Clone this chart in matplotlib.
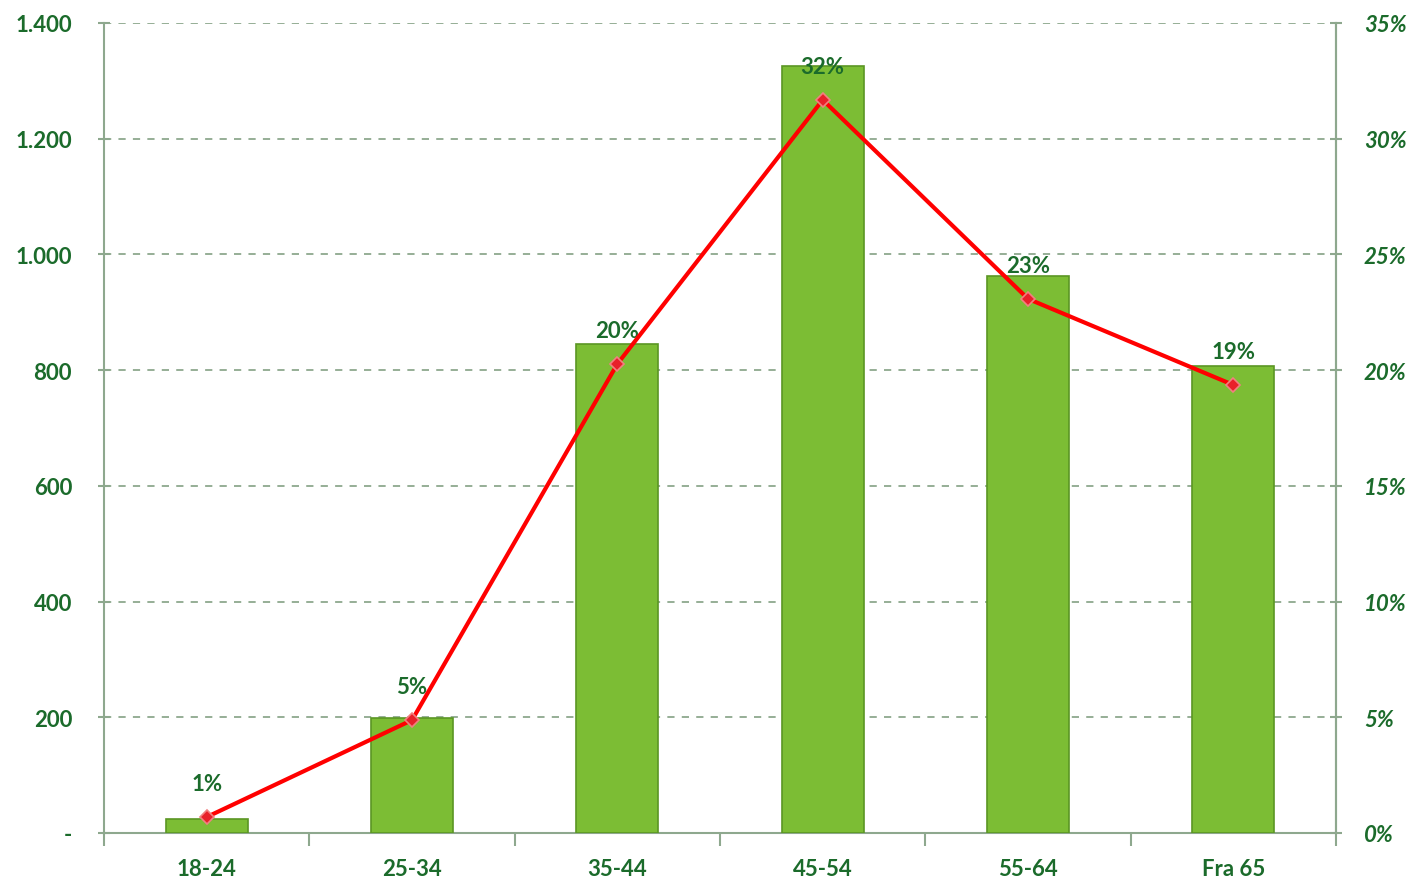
import matplotlib.pyplot as plt
import numpy as np

# Dati
categorie = ['18-24', '25-34', '35-44', '45-54', '55-64', 'Fra 65']
valori = [24, 199, 845, 1326, 963, 807]
percentuali = [0.69, 4.88, 20.27, 31.68, 23.08, 19.36]
etichette = ['1%', '5%', '20%', '32%', '23%', '19%']
tick_sx = [0, 200, 400, 600, 800, 1000, 1200, 1400]
tick_sx_lab = ['-', '200', '400', '600', '800', '1.000', '1.200', '1.400']
tick_dx = [0, 5, 10, 15, 20, 25, 30, 35]

verde_testo = '#1b6b2b'
grigio = '#8ea88e'

plt.rcParams['font.family'] = ['Lato', 'DejaVu Sans']

fig = plt.figure(figsize=(14.12, 8.79), dpi=100)
ax = fig.add_axes([0.0737, 0.0512, 0.8725, 0.9215])
x = np.arange(len(categorie))

# Barre
ax.bar(x, valori, width=0.4, color='#7cbd34', edgecolor='#5b9624', linewidth=1.2, zorder=3)
ax.set_xlim(-0.5, 5.5)
ax.set_ylim(0, 1400)
ax.set_yticks(tick_sx)
ax.set_yticklabels(tick_sx_lab)
ax.set_xticks(x)
ax.set_xticklabels(categorie)
ax.set_xticks(np.arange(-0.5, 6, 1), minor=True)
ax.tick_params(axis='x', which='major', length=0, pad=18, labelsize=16, labelcolor=verde_testo)
ax.tick_params(axis='x', which='minor', length=9, color=grigio, width=1.5, direction='out')
ax.tick_params(axis='y', length=8, direction='inout', color=grigio, width=1.5,
               labelsize=16, labelcolor=verde_testo, pad=19)
for t in ax.get_xticklabels() + ax.get_yticklabels():
    t.set_fontweight('bold')
ax.grid(axis='y', linestyle=(0, (4, 4)), color=grigio, linewidth=1.3, zorder=0)
ax.spines['top'].set_visible(False)
for s in ['left', 'right', 'bottom']:
    ax.spines[s].set_color(grigio)
    ax.spines[s].set_linewidth(1.5)

# Linea percentuale
ax2 = ax.twinx()
ax2.set_ylim(0, 35)
ax2.set_yticks(tick_dx)
ax2.set_yticklabels([f'{v}%' for v in tick_dx])
ax2.plot(x, percentuali, color='#ff0000', linewidth=3, marker='D', markersize=7,
         markerfacecolor='#e8202a', markeredgecolor='#f08080', markeredgewidth=1.2, zorder=5)
for xi, p, lab in zip(x, percentuali, etichette):
    ax2.annotate(lab, (xi, p), xytext=(0, 24), textcoords='offset points', ha='center',
                 va='center', fontsize=16, fontweight='bold', color=verde_testo)
ax2.tick_params(axis='y', length=8, direction='inout', color=grigio, width=1.5,
                labelsize=16, labelcolor=verde_testo, pad=16)
for t in ax2.get_yticklabels():
    t.set_fontweight('bold')
    t.set_fontstyle('italic')
for s in ['top', 'left', 'bottom']:
    ax2.spines[s].set_visible(False)
ax2.spines['right'].set_color(grigio)
ax2.spines['right'].set_linewidth(1.5)

plt.savefig('out.png', dpi=100)
